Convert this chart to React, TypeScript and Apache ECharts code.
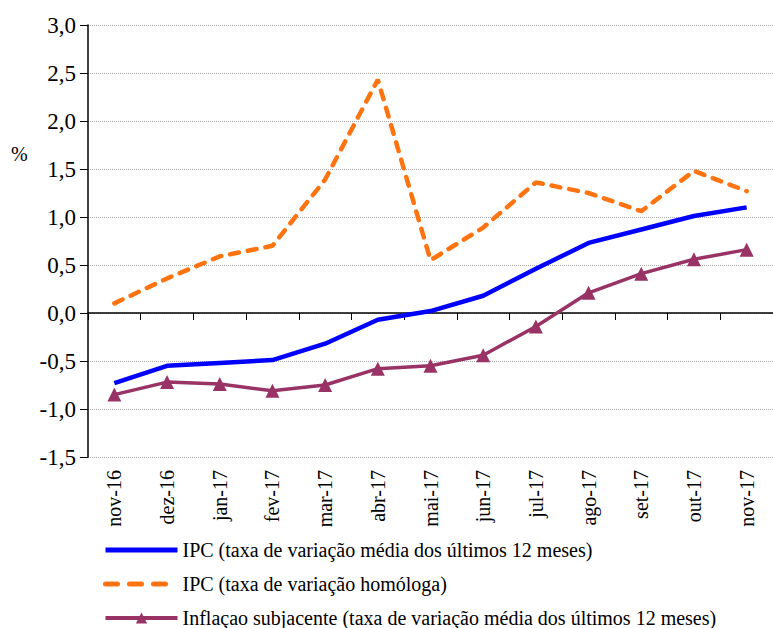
import React, { useEffect, useRef } from "react";
import * as echarts from "echarts";

const categories = ["nov-16", "dez-16", "jan-17", "fev-17", "mar-17", "abr-17", "mai-17", "jun-17", "jul-17", "ago-17", "set-17", "out-17", "nov-17"];
const ipcMedia = [-0.73, -0.55, -0.52, -0.49, -0.32, -0.07, 0.02, 0.18, 0.46, 0.73, 0.87, 1.01, 1.10];
const ipcHomologa = [0.10, 0.36, 0.59, 0.70, 1.39, 2.43, 0.55, 0.89, 1.36, 1.25, 1.06, 1.48, 1.27];
const subjacente = [-0.85, -0.72, -0.74, -0.81, -0.75, -0.58, -0.55, -0.44, -0.14, 0.21, 0.41, 0.56, 0.66];
const seriesNames = [
  "IPC (taxa de variação média dos últimos 12 meses)",
  "IPC (taxa de variação homóloga)",
  "Inflaçao subjacente (taxa de variação média dos últimos 12 meses)",
];

const FONT = "serif";

export default function App() {
  const ref = useRef<HTMLDivElement>(null);
  useEffect(() => {
    if (!ref.current) return;
    const chart = echarts.init(ref.current, null, { renderer: "svg" });
    chart.setOption({
      animation: false,
      backgroundColor: "#ffffff",
      textStyle: { fontFamily: FONT },
      grid: { left: 88, top: 25, width: 694, height: 432, containLabel: false },
      graphic: [
        {
          type: "text",
          left: 11,
          top: 144,
          style: { text: "%", fontSize: 20, fontFamily: FONT, fill: "#000" },
        },
      ],
      legend: {
        orient: "vertical",
        left: 103,
        top: 540,
        height: 100,
        padding: 0,
        itemWidth: 72,
        itemHeight: 14,
        itemGap: 14,
        textStyle: { fontFamily: FONT, fontSize: 20, color: "#000" },
        data: [
          { name: seriesNames[0], itemStyle: { opacity: 0 }, lineStyle: { width: 5 } },
          { name: seriesNames[1], itemStyle: { opacity: 0 }, lineStyle: { width: 5, type: [12, 12], cap: "round" } },
          { name: seriesNames[2], lineStyle: { width: 4 } },
        ],
      },
      xAxis: [
        {
          type: "category",
          data: categories,
          position: "bottom",
          boundaryGap: true,
          axisLine: { onZero: true, lineStyle: { color: "#000", width: 1.5 } },
          axisTick: { show: true, length: 7, lineStyle: { color: "#000" } },
          axisLabel: { show: false },
          splitLine: { show: false },
        },
        {
          type: "category",
          data: categories,
          position: "bottom",
          boundaryGap: true,
          axisLine: { show: false, onZero: false },
          axisTick: { show: false },
          axisLabel: {
            show: true,
            rotate: 90,
            margin: 13,
            fontSize: 20,
            fontFamily: FONT,
            color: "#000",
            interval: 0,
          },
          splitLine: { show: false },
        },
      ],
      yAxis: {
        type: "value",
        min: -1.5,
        max: 3,
        interval: 0.5,
        axisLine: { show: true, lineStyle: { color: "#000", width: 1.5 } },
        axisTick: { show: true, length: 8, lineStyle: { color: "#000" } },
        axisLabel: {
          fontSize: 23,
          fontFamily: FONT,
          color: "#000",
          margin: 12,
          formatter: (v: number) => v.toFixed(1).replace(".", ","),
        },
        splitLine: { show: true, lineStyle: { color: "#aaaaaa", type: "dotted", width: 1 } },
      },
      series: [
        {
          name: seriesNames[0],
          type: "line",
          data: ipcMedia,
          symbol: "none",
          lineStyle: { color: "#0000FF", width: 4.5 },
          itemStyle: { color: "#0000FF" },
          z: 3,
        },
        {
          name: seriesNames[1],
          type: "line",
          data: ipcHomologa,
          symbol: "none",
          lineStyle: { color: "#FF7410", width: 4.5, type: [9, 9], cap: "round" },
          itemStyle: { color: "#FF7410" },
          z: 2,
        },
        {
          name: seriesNames[2],
          type: "line",
          data: subjacente,
          symbol: "triangle",
          symbolSize: 14,
          lineStyle: { color: "#993366", width: 3.5 },
          itemStyle: { color: "#993366" },
          z: 4,
        },
      ],
    });
    return () => chart.dispose();
  }, []);
  return (
    <div
      ref={ref}
      style={{ position: "fixed", left: 0, top: 0, width: 773, height: 628, background: "#fff" }}
    />
  );
}
